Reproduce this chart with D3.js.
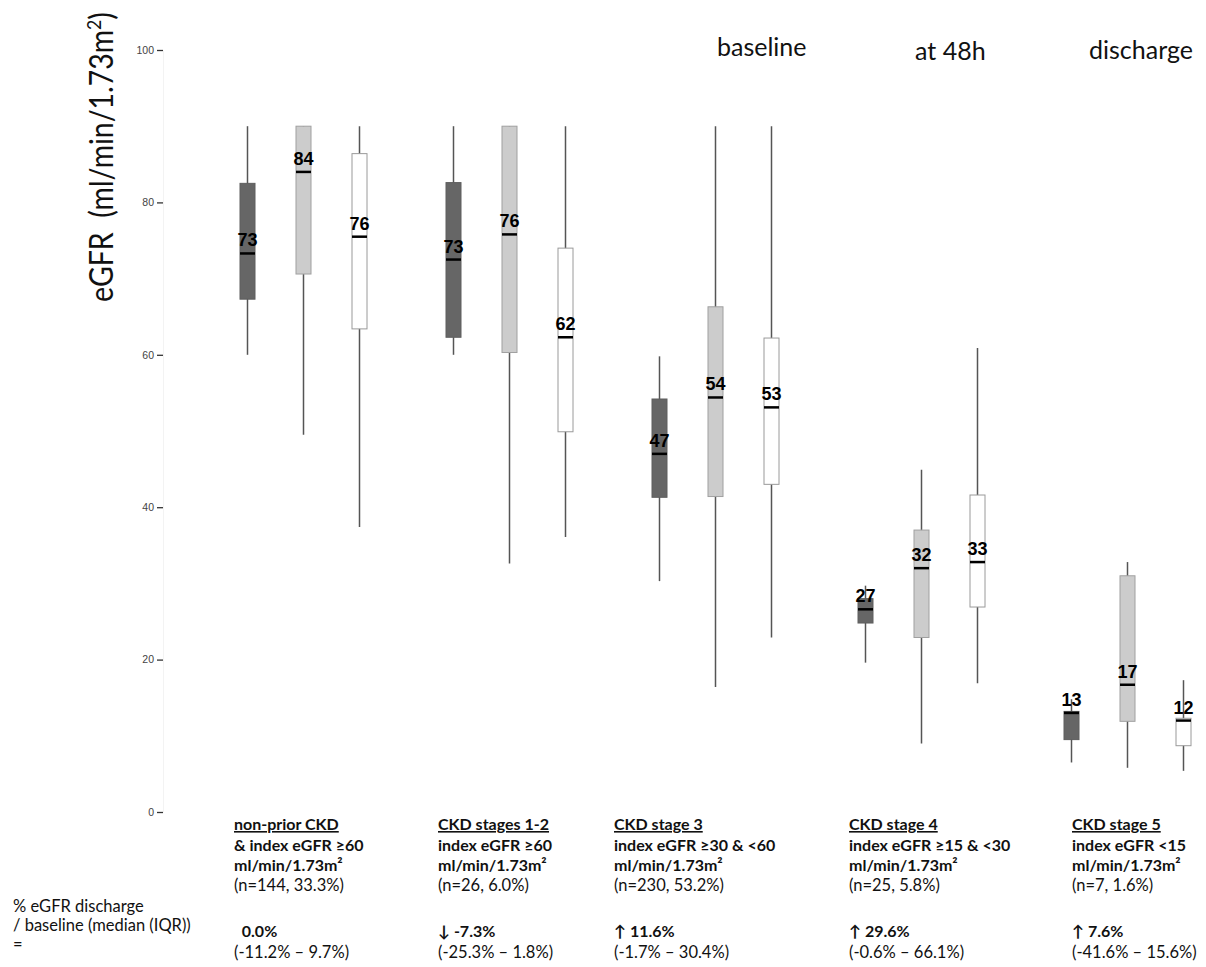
<!DOCTYPE html>
<html>
<head>
<meta charset="utf-8">
<script src="https://cdn.jsdelivr.net/npm/d3@7"></script>
<style>
  body { margin: 0; background: #fff; }
  svg { display: block; }
</style>
</head>
<body>
<div id="chart"></div>
<script>
// categories
const groups = ['non-prior CKD', 'CKD stages 1-2', 'CKD stage 3', 'CKD stage 4', 'CKD stage 5'];
const timepoints = ['baseline', 'at 48h', 'discharge'];

// box stats per timepoint (whisker low, q1, median, q3, whisker high)
const baselineLo  = [60.0, 60.0, 30.3, 19.6, 6.5];
const baselineQ1  = [67.3, 62.3, 41.3, 24.8, 9.5];
const baselineMed = [73.3, 72.5, 47.0, 26.6, 13.0];
const baselineQ3  = [82.5, 82.6, 54.2, 28.0, 13.2];
const baselineHi  = [90.0, 90.0, 59.8, 29.7, 14.8];
const baselineLbl = [73, 73, 47, 27, 13];

const h48Lo  = [49.5, 32.6, 16.4, 9.0, 5.8];
const h48Q1  = [70.6, 60.3, 41.4, 22.9, 11.9];
const h48Med = [84.0, 75.8, 54.4, 32.0, 16.7];
const h48Q3  = [90.0, 90.0, 66.3, 37.0, 31.0];
const h48Hi  = [90.0, 90.0, 90.0, 44.9, 32.8];
const h48Lbl = [84, 76, 54, 32, 17];

const dischargeLo  = [37.4, 36.1, 22.9, 16.9, 5.4];
const dischargeQ1  = [63.4, 49.9, 43.0, 26.9, 8.7];
const dischargeMed = [75.5, 62.3, 53.1, 32.8, 12.0];
const dischargeQ3  = [86.4, 74.0, 62.2, 41.6, 12.3];
const dischargeHi  = [90.0, 90.0, 90.0, 60.9, 17.3];
const dischargeLbl = [76, 62, 53, 33, 12];

const yTicks = [0, 20, 40, 60, 80, 100];

// text under each group
const criteria = ['& index eGFR \u226560', 'index eGFR \u226560', 'index eGFR \u226530 & <60', 'index eGFR \u226515 & <30', 'index eGFR <15'];
const unitLine = 'ml/min/1.73m\u00b2';
const counts = ['(n=144, 33.3%)', '(n=26, 6.0%)', '(n=230, 53.2%)', '(n=25, 5.8%)', '(n=7, 1.6%)'];
const changes = ['\u00a0\u00a00.0%', '\u2193 -7.3%', '\u2191 11.6%', '\u2191 29.6%', '\u2191 7.6%'];
const changeIqr = ['(-11.2% \u2013 9.7%)', '(-25.3% \u2013 1.8%)', '(-1.7% \u2013 30.4%)', '(-0.6% \u2013 66.1%)', '(-41.6% \u2013 15.6%)'];
const noteLines = ['% eGFR discharge', '/ baseline (median (IQR))', '='];

const width = 1206, height = 967;
const fills = { 'baseline': '#666666', 'at 48h': '#cccccc', 'discharge': '#ffffff' };
const strokes = { 'baseline': '#5e5e5e', 'at 48h': '#a0a0a0', 'discharge': '#9a9a9a' };
const textX = [234, 438, 614, 849, 1072]; // left edge of group text blocks
const calibri = 'Lato, Carlito, Calibri, sans-serif';

const series = [
    { key: 'baseline', lo: baselineLo, q1: baselineQ1, med: baselineMed, q3: baselineQ3, hi: baselineHi, lbl: baselineLbl },
    { key: 'at 48h', lo: h48Lo, q1: h48Q1, med: h48Med, q3: h48Q3, hi: h48Hi, lbl: h48Lbl },
    { key: 'discharge', lo: dischargeLo, q1: dischargeQ1, med: dischargeMed, q3: dischargeQ3, hi: dischargeHi, lbl: dischargeLbl }
];

const boxes = [];
series.forEach(s => {
    groups.forEach((g, i) => {
        boxes.push({ group: g, key: s.key, lo: s.lo[i], q1: s.q1[i], med: s.med[i], q3: s.q3[i], hi: s.hi[i], lbl: s.lbl[i] });
    });
});

const svg = d3.select('#chart').append('svg')
    .attr('width', width)
    .attr('height', height);

const y = d3.scaleLinear().domain([0, 100]).range([812, 50]);
const x0 = d3.scaleBand().domain(groups).range([200.5, 1230.5]);
const x1 = d3.scaleBand().domain(timepoints).range([-84, 84]);
const boxW = 15;
const cx = d => x0(d.group) + x0.bandwidth() / 2 + x1(d.key) + x1.bandwidth() / 2;

// y axis
const yAxis = svg.append('g')
    .attr('transform', 'translate(163,0)')
    .call(d3.axisLeft(y).tickValues(yTicks).tickSize(6).tickSizeOuter(0).tickPadding(3));
yAxis.select('.domain').attr('stroke', '#f3f3f3').attr('stroke-width', 1);
yAxis.selectAll('.tick line').attr('stroke', '#333').attr('stroke-width', 1.3);
yAxis.selectAll('.tick text')
    .attr('fill', '#444')
    .style('font-family', 'Liberation Sans, Arial, sans-serif')
    .style('font-size', '10.5px');

// axis title, squeezed to the reference length
const yTitle = svg.append('text')
    .attr('text-anchor', 'middle')
    .style('font-family', calibri)
    .style('font-size', '32px')
    .attr('fill', '#111');
yTitle.append('tspan').text('eGFR\u00a0\u00a0(ml/min/1.73m');
yTitle.append('tspan').attr('dy', -12).style('font-size', '20px').text('2');
yTitle.append('tspan').attr('dy', 12).text(')');
const titleLen = yTitle.node().getBBox().width;
const sx = Math.min(1, 290 / titleLen);
yTitle.attr('transform', `translate(113,157) rotate(-90) scale(${sx},1)`);

// legend words at top
const legendX = { 'baseline': 717, 'at 48h': 915, 'discharge': 1089 };
const legendY = { 'baseline': 56, 'at 48h': 60, 'discharge': 59 };
svg.append('g').selectAll('text')
    .data(timepoints)
    .join('text')
    .attr('x', d => legendX[d])
    .attr('y', d => legendY[d])
    .style('font-family', calibri)
    .style('font-size', '25px')
    .attr('fill', '#111')
    .text(d => d);

// boxes
const body = svg.append('g');
const bg = body.selectAll('g.box')
    .data(boxes)
    .join('g')
    .attr('class', 'box');

bg.append('line')
    .attr('x1', cx).attr('x2', cx)
    .attr('y1', d => y(d.hi)).attr('y2', d => y(d.lo))
    .attr('stroke', '#555')
    .attr('stroke-width', 1.5);

bg.append('rect')
    .attr('x', d => cx(d) - boxW / 2)
    .attr('y', d => y(d.q3))
    .attr('width', boxW)
    .attr('height', d => Math.max(1, y(d.q1) - y(d.q3)))
    .attr('fill', d => fills[d.key])
    .attr('stroke', d => strokes[d.key])
    .attr('stroke-width', 1);

bg.append('line')
    .attr('x1', d => cx(d) - boxW / 2).attr('x2', d => cx(d) + boxW / 2)
    .attr('y1', d => y(d.med)).attr('y2', d => y(d.med))
    .attr('stroke', '#000')
    .attr('stroke-width', 2.5);

bg.append('text')
    .attr('x', cx)
    .attr('y', d => y(d.med) - 7)
    .attr('text-anchor', 'middle')
    .style('font-family', 'Liberation Sans, Arial, sans-serif')
    .style('font-weight', 'bold')
    .style('font-size', '18px')
    .attr('fill', '#000')
    .text(d => d.lbl);

// group text under the chart
const tg = svg.append('g').selectAll('g')
    .data(groups)
    .join('g')
    .attr('transform', (d, i) => `translate(${textX[i]},0)`)
    .style('font-family', calibri)
    .style('font-size', '16px')
    .attr('fill', '#111');

tg.append('text').attr('y', 830).style('font-weight', 'bold')
    .style('text-decoration', 'underline').text(d => d);
tg.append('text').attr('y', 851).style('font-weight', 'bold').text((d, i) => criteria[i]);
tg.append('text').attr('y', 871).style('font-weight', 'bold').text(unitLine);
tg.append('text').attr('y', 891).style('font-size', '16.5px').text((d, i) => counts[i]);
tg.append('text').attr('y', 937).style('font-weight', 'bold').text((d, i) => changes[i]);
tg.append('text').attr('y', 958).style('font-size', '16.5px').text((d, i) => changeIqr[i]);

svg.append('g').selectAll('text')
    .data(noteLines)
    .join('text')
    .attr('x', 13)
    .attr('y', (d, i) => 912 + i * 19)
    .style('font-family', calibri)
    .style('font-size', '16.5px')
    .attr('fill', '#111')
    .text(d => d);
</script>
</body>
</html>
